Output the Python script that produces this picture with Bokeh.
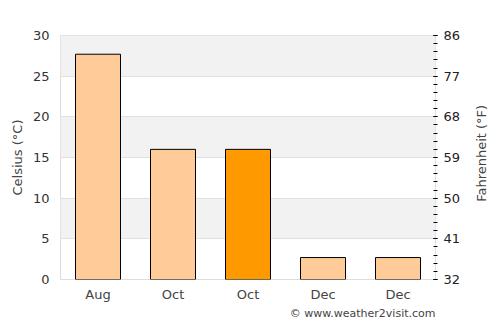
import math
from bokeh.plotting import figure
from bokeh.layouts import row
from bokeh.models import (ColumnDataSource, Range1d, LinearAxis, FixedTicker, Title)
from bokeh.core.properties import value
from bokeh.embed import file_html
from bokeh.resources import INLINE

months = ["Aug", "Oct", "Oct", "Dec", "Dec"]
temps_c = [27.7, 16.0, 16.0, 2.7, 2.7]
colors = ["#FFCC99", "#FFCC99", "#FF9900", "#FFCC99", "#FFCC99"]
c_ticks = [0, 5, 10, 15, 20, 25, 30]
f_ticks = [32, 41, 50, 59, 68, 77, 86]

xs = list(range(len(months)))
src = ColumnDataSource(dict(x=xs, top=temps_c, color=colors))

p = figure(width=475, height=325, output_backend="svg", toolbar_location=None,
           x_range=Range1d(-0.5, len(months) - 0.5), y_range=Range1d(0, 30),
           min_border_left=60, min_border_right=40, min_border_top=35, min_border_bottom=46)
p.background_fill_color = "white"
p.border_fill_color = "white"
p.outline_line_color = "#dddddd"

p.vbar(x="x", top="top", width=0.6, bottom=0, fill_color="color",
       line_color="black", line_width=1, source=src)

font = "DejaVu Sans"
# left axis
ya = p.yaxis[0]
ya.ticker = FixedTicker(ticks=c_ticks)
ya.axis_label = "Celsius (°C)"
ya.axis_line_color = None
ya.major_tick_line_color = None
ya.minor_tick_line_color = None
ya.major_label_text_font = font
ya.major_label_text_font_size = "13px"
ya.major_label_text_color = "#333333"
ya.axis_label_text_font = font
ya.axis_label_text_font_style = "normal"
ya.axis_label_text_font_size = "13px"
ya.axis_label_text_color = "#444444"
ya.axis_label_standoff = 5

# x axis
xa = p.xaxis[0]
xa.ticker = FixedTicker(ticks=xs)
xa.major_label_overrides = {i: m for i, m in enumerate(months)}
xa.axis_line_color = None
xa.major_tick_line_color = None
xa.minor_tick_line_color = None
xa.major_label_text_font = font
xa.major_label_text_font_size = "13px"
xa.major_label_text_color = "#444444"
xa.major_label_standoff = 1

# grid
p.xgrid.grid_line_color = None
p.ygrid.ticker = FixedTicker(ticks=c_ticks)
p.ygrid.grid_line_color = "#e0e0e0"
p.ygrid.band_fill_color = "#f2f2f2"
p.ygrid.band_fill_alpha = 1.0

# right axis
p.extra_y_ranges = {"f": Range1d(32, 86)}
ra = LinearAxis(y_range_name="f")
minor = [round(32 + 1.8 * i, 2) for i in range(31)]
ra.ticker = FixedTicker(ticks=f_ticks, minor_ticks=minor)
ra.axis_line_color = None
ra.major_tick_line_color = "black"
ra.minor_tick_line_color = "black"
ra.major_tick_in = 2
ra.major_tick_out = 2
ra.minor_tick_in = 2
ra.minor_tick_out = 2
ra.major_label_standoff = 6
ra.major_label_text_font = font
ra.major_label_text_font_size = "13px"
ra.major_label_text_color = "#222222"
p.add_layout(ra, "right")

p.add_layout(Title(text="© www.weather2visit.com", align="right",
                   text_font=font, text_font_size="11px", text_font_style="normal",
                   text_color="#444444", standoff=0), "below")

# narrow side panel holding the right axis title (reads bottom-to-top)
side = figure(width=25, height=325, output_backend="svg", toolbar_location=None,
              x_range=Range1d(0, 25), y_range=Range1d(0, 325),
              x_axis_type=None, y_axis_type=None,
              min_border=0, min_border_left=0, min_border_right=0,
              min_border_top=0, min_border_bottom=0)
side.outline_line_color = None
side.background_fill_color = "white"
side.border_fill_color = "white"
side.xgrid.visible = False
side.ygrid.visible = False
side.text(x=[6], y=[168], text=["Fahrenheit (°F)"], angle=math.pi / 2,
          text_align="center", text_baseline="middle",
          text_font=value(font), text_font_size="13px", text_color="#444444")

layout = row(p, side, spacing=0)
open("out.html", "w").write(file_html(layout, INLINE))
